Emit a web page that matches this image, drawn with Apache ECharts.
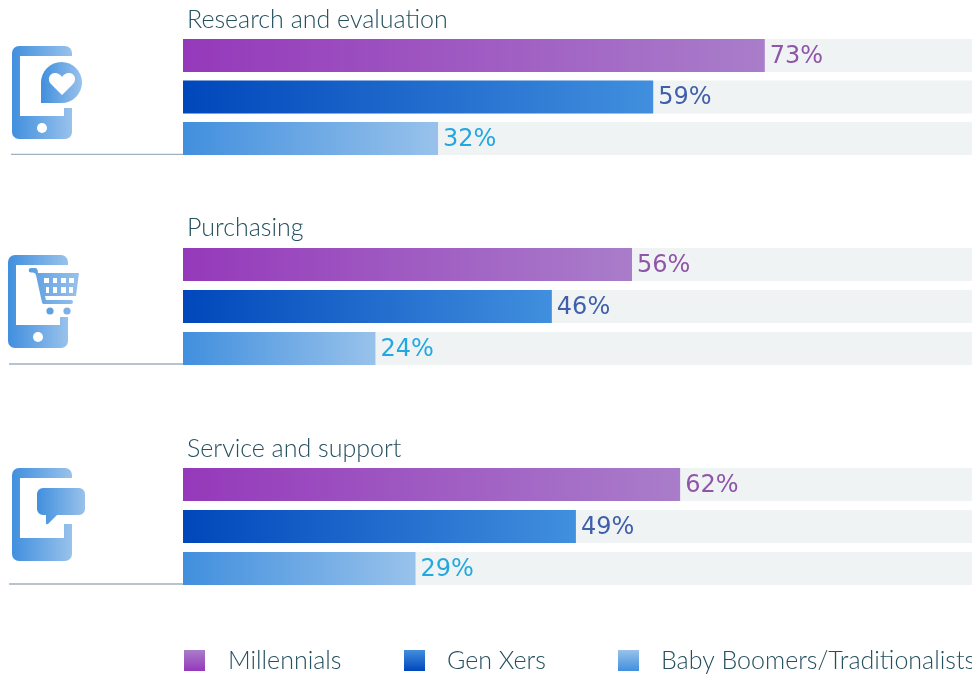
<!DOCTYPE html>
<html><head><meta charset="utf-8">
<style>html,body{margin:0;padding:0;background:#fff;overflow:hidden}#c{width:972px;height:675px}</style>
<script src="https://cdn.jsdelivr.net/npm/echarts@6/dist/echarts.min.js"></script>
</head><body><div id="c"></div>
<script>
const stages = ['Research and evaluation', 'Purchasing', 'Service and support'];
const generations = ['Millennials', 'Gen Xers', 'Baby Boomers/Traditionalists'];
const millennials = [73, 56, 62];
const genXers = [59, 46, 49];
const boomers = [32, 24, 29];
const seriesValues = [millennials, genXers, boomers];
const barStops = [['#9539BA', '#A97DCA'], ['#0047BB', '#418FDE'], ['#418FDE', '#98C2EB']];
const labelColors = ['#8F55A8', '#3F5FAA', '#22A8E1'];

const hGrad = (a, b) => ({type: 'linear', x: 0, y: 0, x2: 1, y2: 0, colorStops: [{offset: 0, color: a}, {offset: 1, color: b}]});
const vGrad = (a, b) => ({type: 'linear', x: 0, y: 1, x2: 0, y2: 0, colorStops: [{offset: 0, color: a}, {offset: 1, color: b}]});

const gridBoxes = [
  {left: 183, top: 34.75, width: 789, height: 124.5},
  {left: 183, top: 243.5, width: 789, height: 126},
  {left: 183, top: 463.5, width: 789, height: 126}
];
const axisMax = [99, 98.4, 98.4];
const barGaps = ['25.76%', '27.27%', '27.27%'];
const titleTops = [7, 215, 436];
const titleFont = {fontFamily: 'Lato', fontWeight: 300, fontSize: 25, color: '#25505F'};

const series = [];
stages.forEach((s, gi) => {
  generations.forEach((g, si) => {
    series.push({
      type: 'bar', name: g, xAxisIndex: gi, yAxisIndex: gi,
      data: [seriesValues[si][gi]], barWidth: 33, barGap: barGaps[gi],
      showBackground: true, backgroundStyle: {color: '#F0F3F4'},
      itemStyle: {color: hGrad(barStops[si][0], barStops[si][1])},
      label: {show: true, position: 'right', distance: 5, offset: [0, 1], formatter: '{c}%', color: labelColors[si],
        fontFamily: 'DejaVu Sans', fontWeight: 400, fontSize: 24}
    });
  });
});

const legendX = [184, 404, 618];
const legendPad = [18, 17, 17];
const legends = generations.map((g, i) => ({
  left: legendX[i], top: 648, padding: 0, itemWidth: 21, itemHeight: 21,
  icon: 'rect', selectedMode: false,
  data: [{name: g, itemStyle: {color: vGrad(barStops[i][0], barStops[i][1])}}],
  textStyle: {fontFamily: 'Lato', fontWeight: 300, fontSize: 25, color: '#25505F', padding: [0, 0, 0, legendPad[i]]}
}));

const phoneFill = hGrad('#418FDE', '#98C2EB');
const phone = (x, y, bandBottomY) => {
  const r = x + 60, b = y + 93;
  const sT = y + 10, sB = y + 70;
  return 'M' + (x + 7) + ',' + y + ' H' + (r - 7) + ' a7,7 0 0 1 7,7 V' + sT + ' H' + (x + 8) + ' V' + sB +
    ' H' + (r - 8) + ' V' + bandBottomY + ' H' + r + ' V' + (b - 7) + ' a7,7 0 0 1 -7,7 H' + (x + 7) +
    ' a7,7 0 0 1 -7,-7 V' + (y + 7) + ' a7,7 0 0 1 7,-7 Z';
};
let shapeCount = 0;
const shape = (d, fill) => {
  const name = 'iconShape' + (shapeCount++);
  echarts.graphic.registerShape(name, echarts.graphic.extendPath(d));
  return {type: name, silent: true, style: {fill}};
};
const dot = (cx, cy, r, fill) => ({type: 'circle', silent: true, shape: {cx, cy, r}, style: {fill}});
const box = (x, y, w, h, fill) => ({type: 'rect', silent: true, shape: {x, y, width: w, height: h}, style: {fill}});
const rule = (x1, x2, y) => ({type: 'line', silent: true, shape: {x1, y1: y, x2, y2: y}, style: {stroke: '#9FB1C1', lineWidth: 1.4}});

const graphics = [
  rule(11, 183, 154.4), rule(9, 183, 364), rule(9, 183, 584),
  // icon 1
  shape(phone(12, 46, 108), phoneFill), dot(42, 128, 5, '#fff'),
  shape('M41,103 V82.5 A20.5,20.5 0 1 1 61.5,103 Z', phoneFill),
  shape('M62,95 L51,84 C47,80 49,73 55,73 C58,73 61,75 62,77 C63,75 66,73 69,73 C75,73 77,80 73,84 Z', '#fff'),
  // icon 2
  shape(phone(8, 255, 317), phoneFill), dot(38, 337, 5, '#fff'),
  shape('M38,273 H79 L76,296 H45 L46,300 H71 a1.8,1.8 0 0 1 0,4 H44 a2,2 0 0 1 -2,-1.6 L36,275 Q35.5,272.5 33,272.5 H31 a2.2,2.2 0 0 1 0,-4.6 H35 Q38,268 38,273 Z', hGrad('#5A9DE2', '#98C2EB')),
  box(44, 278, 5, 5, '#fff'), box(53, 278, 4, 5, '#fff'), box(61, 278, 5, 5, '#fff'), box(69, 278, 5, 5, '#fff'),
  box(46, 287, 3, 6, '#fff'), box(53, 287, 4, 6, '#fff'), box(61, 287, 5, 6, '#fff'), box(69, 287, 4, 6, '#fff'),
  dot(50, 311, 3.6, '#5FA0E3'), dot(67, 311, 3.6, '#7CB0E7'),
  // icon 3
  shape(phone(12, 468, 524), phoneFill),
  shape('M43,488 H79 a6,6 0 0 1 6,6 V509 a6,6 0 0 1 -6,6 H57 L48,524 Q46,525 46,523 V515 H43 a6,6 0 0 1 -6,-6 V494 a6,6 0 0 1 6,-6 Z', phoneFill)
];

const option = {
  animation: false,
  backgroundColor: '#fff',
  title: stages.map((s, i) => ({text: s, left: 187, top: titleTops[i], padding: 0, textStyle: titleFont})),
  legend: legends,
  grid: gridBoxes,
  xAxis: stages.map((s, i) => ({type: 'value', gridIndex: i, min: 0, max: axisMax[i], show: false})),
  yAxis: stages.map((s, i) => ({type: 'category', gridIndex: i, data: [s], inverse: true, show: false})),
  series,
  graphic: {elements: graphics}
};
echarts.init(document.getElementById('c'), null, {renderer: 'canvas'}).setOption(option);
</script></body></html>
